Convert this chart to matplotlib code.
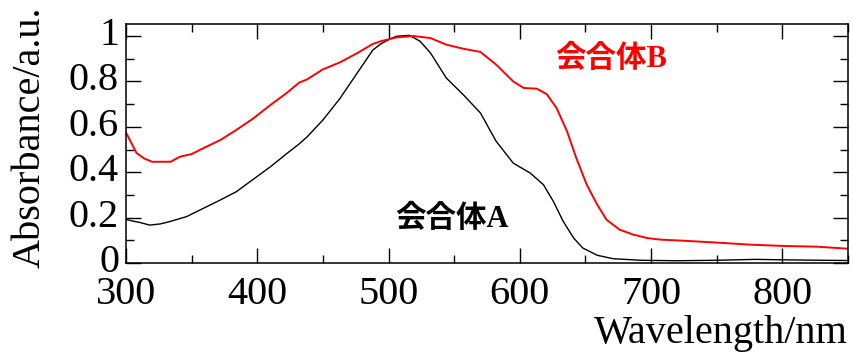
import matplotlib
matplotlib.use("Agg")
import matplotlib.pyplot as plt
from matplotlib.ticker import MultipleLocator, FuncFormatter
from matplotlib.transforms import ScaledTranslation

# Data
wl_A = [300, 305, 311, 318, 326, 333, 346, 359, 372, 384, 397, 410, 422, 432, 438,
        450, 463, 476, 488, 494, 501, 506, 516, 524, 532, 544, 557, 570, 582, 595,
        608, 618, 625.5, 633, 641, 648, 659, 671, 692, 720, 750, 780, 800, 830, 850]
abs_A = [0.192, 0.185, 0.178, 0.167, 0.172, 0.182, 0.204, 0.241, 0.278, 0.314, 0.369,
         0.424, 0.480, 0.525, 0.556, 0.630, 0.725, 0.836, 0.938, 0.965, 0.987, 0.999,
         1.003, 0.977, 0.925, 0.815, 0.741, 0.661, 0.536, 0.440, 0.396, 0.345, 0.272,
         0.184, 0.110, 0.066, 0.034, 0.019, 0.012, 0.010, 0.012, 0.016, 0.014, 0.012,
         0.011]

wl_B = [300, 304, 308, 314, 320, 334, 341, 350, 359, 372, 384, 397, 410, 422, 432,
        438, 450, 463, 476, 488, 494, 506, 519, 532, 544, 557, 570, 582, 595, 603,
        613, 620.5, 628, 636, 643, 651, 659, 666, 676, 686.5, 697, 707, 725, 750, 775,
        801, 826, 850]
abs_B = [0.575, 0.530, 0.485, 0.460, 0.446, 0.446, 0.468, 0.480, 0.506, 0.542, 0.586,
         0.637, 0.696, 0.747, 0.795, 0.809, 0.853, 0.884, 0.924, 0.965, 0.977, 0.994,
         1.0, 0.991, 0.962, 0.944, 0.930, 0.874, 0.800, 0.771, 0.768, 0.744, 0.683,
         0.580, 0.463, 0.345, 0.257, 0.191, 0.147, 0.125, 0.110, 0.103, 0.098, 0.090,
         0.081, 0.075, 0.072, 0.063]

label_A = "会合体A"
label_B = "会合体B"
xlabel = "Wavelength/nm"
ylabel = "Absorbance/a.u."

serif = ["Liberation Serif", "Noto Sans CJK JP", "DejaVu Sans"]
plt.rcParams["font.family"] = serif

fig = plt.figure(figsize=(8.54, 3.58), dpi=100)
ax = fig.add_axes([126/854, 95/358, 722/854, 239/358])

ax.plot(wl_A, abs_A, color="black", lw=1.0)
ax.plot(wl_B, abs_B, color="#ff0000", lw=1.4)

ax.set_xlim(300, 850)
ax.set_ylim(0, 1.053)
ax.xaxis.set_major_locator(MultipleLocator(100))
ax.xaxis.set_minor_locator(MultipleLocator(50))
ax.yaxis.set_major_locator(MultipleLocator(0.2))
ax.yaxis.set_minor_locator(MultipleLocator(0.1))
ax.yaxis.set_major_formatter(FuncFormatter(lambda v, p: f"{v:g}"))

ax.tick_params(which="both", direction="in", top=True, right=True, width=1.0,
               labelsize=29, colors="black")
ax.tick_params(which="major", length=11)
ax.tick_params(which="minor", length=5.8)
ax.tick_params(axis="x", which="major", pad=9)
ax.tick_params(axis="y", which="major", pad=5)
for s in ax.spines.values():
    s.set_linewidth(1.1)

shift_up = ScaledTranslation(0, 5/100, fig.dpi_scale_trans)
for lab in ax.get_yticklabels():
    lab.set_transform(lab.get_transform() + shift_up)

ax.text(505, 0.193, label_A, color="black", fontsize=22, fontweight="bold",
        ha="left", va="center", family=serif)
ax.text(627, 0.895, label_B, color="#ff0000", fontsize=22, fontweight="bold",
        ha="left", va="center", family=serif)

fig.text(848/854, (358-333)/358, xlabel, ha="right", va="center", fontsize=29)
fig.text(30/854, (358-137)/358, ylabel, ha="center", va="center", rotation=90,
         fontsize=29)

fig.savefig("out.png", dpi=100)
